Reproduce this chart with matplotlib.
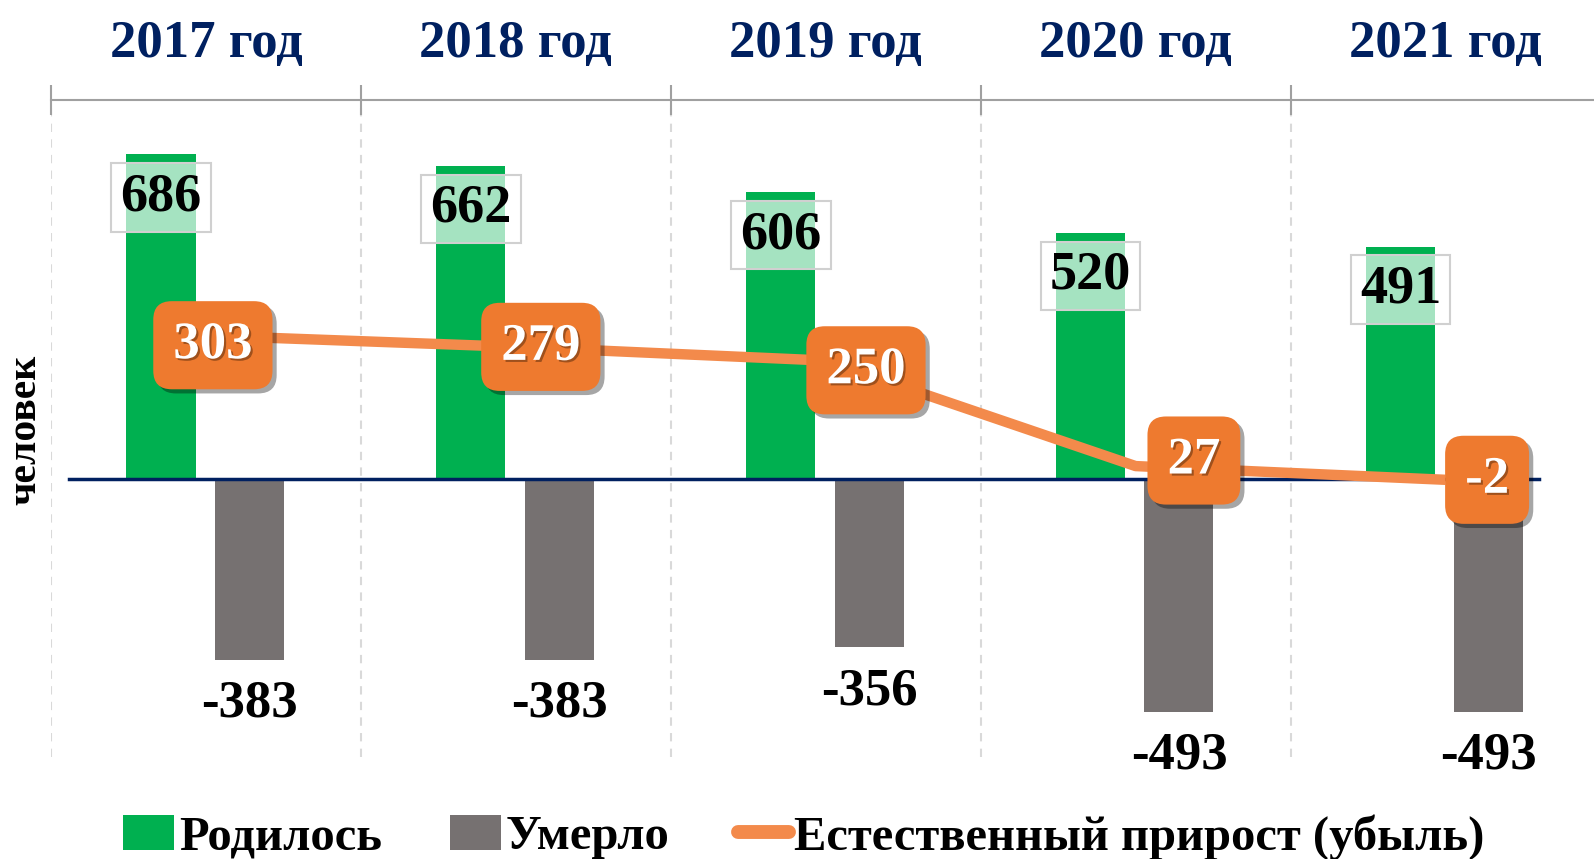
import matplotlib
matplotlib.use("Agg")
import matplotlib.pyplot as plt
import matplotlib.patheffects as pe
from matplotlib.patches import Patch
from matplotlib.lines import Line2D
import numpy as np

plt.rcParams['font.family'] = ['Liberation Serif', 'DejaVu Serif']
plt.rcParams['font.weight'] = 'bold'

# data
years = ['2017 год', '2018 год', '2019 год', '2020 год', '2021 год']
born = [686, 662, 606, 520, 491]
died = [-383, -383, -356, -493, -493]
increase = [303, 279, 250, 27, -2]

# label offsets of orange boxes (points)
box_dx = [5, 18, 29, 42, 30]
box_dy = [-7, 0, -7, 4, 0]

GREEN = '#00B050'
GRAY = '#767171'
ORANGE_LINE = '#F38A4B'
ORANGE_BOX = '#EE7A2F'
NAVY = '#002060'

fig = plt.figure(figsize=(15.94, 8.59), dpi=100)
ax = fig.add_axes([0.032, 0.1187, 0.972, 0.765])

x = np.arange(len(years))
ax.set_xlim(-0.5, len(years) - 0.5)
ax.set_ylim(-588, 801)

# dashed category separators + top axis
bounds = np.arange(len(years) + 1) - 0.5
ax.xaxis.tick_top()
ax.set_xticks(bounds)
ax.set_xticklabels([])
ax.tick_params(axis='x', direction='inout', length=22, width=1.5, color='#a0a0a0')
ax.set_yticks([])
ax.grid(axis='x', color='#d9d9d9', lw=1.5, ls=(0, (4, 3.5)))
ax.set_axisbelow(True)
for s in ['left', 'right', 'bottom']:
    ax.spines[s].set_visible(False)
ax.spines['top'].set_color('#a0a0a0')
ax.spines['top'].set_linewidth(1.5)

for i, y in enumerate(years):
    ax.annotate(y, (i, 1.0), xycoords=('data', 'axes fraction'), xytext=(0, 31),
                textcoords='offset points', ha='center', va='baseline',
                fontsize=38, fontweight='bold', color=NAVY, annotation_clip=False)

# bars
ax.bar(x - 0.145, born, width=0.223, color=GREEN, zorder=2)
ax.bar(x + 0.14, died, width=0.223, color=GRAY, zorder=2)

ax.axhline(0, xmin=0.0116, xmax=0.9606, color=NAVY, lw=2.5, zorder=3)

# line
ax.plot(x, increase, color=ORANGE_LINE, lw=7.5, solid_capstyle='butt',
        solid_joinstyle='round', zorder=4)

# green labels
for i, v in enumerate(born):
    ax.annotate(str(v), (i - 0.145, v), xytext=(0, -31), textcoords='offset points',
                ha='center', va='center', fontsize=39, fontweight='bold', color='black',
                bbox=dict(boxstyle='square,pad=0.17', fc=(1, 1, 1, 0.65), ec='#d0d0d0', lw=1.5),
                zorder=5)

# gray labels
for i, v in enumerate(died):
    ax.annotate(str(v), (i + 0.14, v), xytext=(0, -31.5), textcoords='offset points',
                ha='center', va='center', fontsize=38, fontweight='bold', color='black',
                zorder=5)

# orange labels
for i, v in enumerate(increase):
    t = ax.annotate(str(v), (i, v), xytext=(box_dx[i], box_dy[i]), textcoords='offset points',
                    ha='center', va='center', fontsize=38, fontweight='bold', color='white',
                    bbox=dict(boxstyle='round,pad=0.38,rounding_size=0.35', fc=ORANGE_BOX, ec='none'),
                    zorder=6)
    t.set_path_effects([pe.SimplePatchShadow(offset=(1.5, -1.5), shadow_rgbFace='#6b3510', alpha=0.6),
                        pe.Normal()])
    t.get_bbox_patch().set_path_effects([pe.SimplePatchShadow(offset=(3, -3), shadow_rgbFace='black', alpha=0.35),
                                         pe.Normal()])

fig.text(0.016, 0.5, 'человек', rotation=90, ha='center', va='center',
         fontsize=30, fontweight='bold', color='black')

handles = [Patch(fc=GREEN, ec='none'), Patch(fc=GRAY, ec='none'),
           Line2D([], [], color=ORANGE_LINE, lw=10, solid_capstyle='round')]
labels = ['Родилось', 'Умерло', 'Естественный прирост (убыль)']
fig.legend(handles, labels, loc='center', bbox_to_anchor=(0.504, 0.026), ncol=3,
           frameon=False, prop=dict(family='Liberation Serif', weight='bold', size=35),
           handlelength=1.05, handleheight=0.72, handletextpad=0.1, columnspacing=1.4)

fig.savefig('out.png', dpi=100)
